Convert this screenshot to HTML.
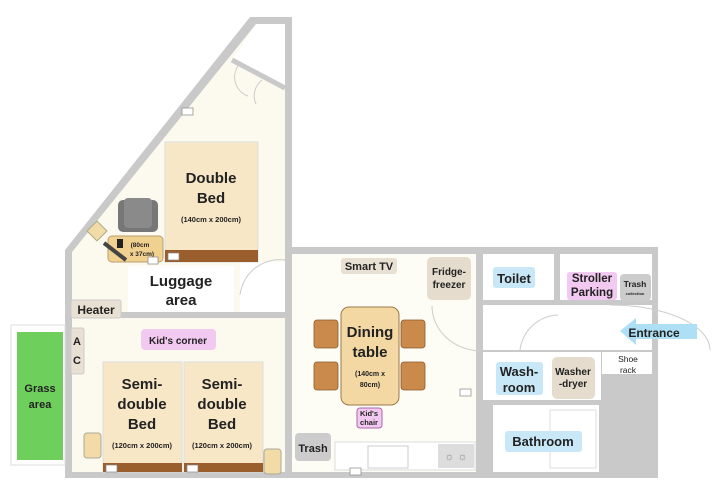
<!DOCTYPE html>
<html><head><meta charset="utf-8"><style>
html,body{margin:0;padding:0;background:#fff;}
svg text{font-family:"Liberation Sans",sans-serif;font-weight:bold;fill:#222;}
</style></head><body>
<svg width="720" height="497" viewBox="0 0 720 497" xmlns="http://www.w3.org/2000/svg">
<!-- wall mass -->
<polygon points="250,17 292,17 292,247 658,247 658,478 65,478 65,250" fill="#c9c9c9"/>
<!-- bedroom triangle interior -->
<polygon points="256,24 285,24 285,262 72,262 72,252" fill="#fcfaee"/>
<!-- closet top -->
<polygon points="256,24 285,24 285,88 232,60" fill="#fff"/>
<line x1="232" y1="60" x2="285" y2="88" stroke="#c9c9c9" stroke-width="5"/>
<path d="M238,66 a20,20 0 0 0 10,30 M262,80 a20,20 0 0 0 -6,24" stroke="#ccc" fill="none"/>
<!-- luggage -->
<rect x="72" y="262" width="213" height="50" fill="#fcfaee"/>
<rect x="128" y="266" width="106" height="46" fill="#fff"/>
<rect x="240" y="262" width="45" height="50" fill="#fff"/>
<path d="M240,295 a40,40 0 0 1 45,-35" stroke="#ccc" fill="none"/>
<!-- kids room -->
<rect x="72" y="318" width="213" height="154" fill="#fcfaee"/>
<!-- grass -->
<rect x="11" y="325" width="54" height="140" fill="#fff" stroke="#ddd"/>
<rect x="17" y="332" width="46" height="128" fill="#6fcf5d"/>
<text x="40" y="392" font-size="11" text-anchor="middle">Grass</text>
<text x="40" y="408" font-size="11" text-anchor="middle">area</text>
<!-- living -->
<rect x="292" y="254" width="184" height="218" fill="#fdfcf5"/>
<rect x="335" y="442" width="140" height="28" fill="#fff" stroke="#ddd"/>
<rect x="368" y="446" width="40" height="22" fill="#fff" stroke="#ccc"/>
<rect x="438" y="444" width="36" height="24" fill="#ddd"/>
<text x="456" y="460" font-size="11" text-anchor="middle" fill="#888" style="fill:#888">☼ ☼</text>
<!-- right rooms -->
<rect x="483" y="254" width="71" height="46" fill="#fff"/>
<rect x="560" y="254" width="92" height="46" fill="#fff"/>
<rect x="483" y="305" width="169" height="45" fill="#fff"/>
<rect x="483" y="352" width="118" height="48" fill="#fff"/>
<rect x="602" y="352" width="50" height="22" fill="#fff"/>
<rect x="493" y="405" width="106" height="67" fill="#fff"/>
<rect x="550" y="410" width="46" height="58" fill="#fff" stroke="#ddd"/>
<path d="M432,306 a50,45 0 0 0 48,45 M520,350 a40,40 0 0 1 38,-35 M610,305 a100,45 0 0 1 100,45" stroke="#ccc" fill="none"/>
<!-- double bed -->
<rect x="165" y="142" width="93" height="120" fill="#f8e7c6" stroke="#ddd"/>
<rect x="165" y="250" width="93" height="12" fill="#9a5d2c"/>
<text x="211" y="183" font-size="15" text-anchor="middle">Double</text>
<text x="211" y="203" font-size="15" text-anchor="middle">Bed</text>
<text x="211" y="222" font-size="7.5" text-anchor="middle">(140cm x 200cm)</text>
<!-- chair & desk -->
<rect x="118" y="200" width="40" height="32" rx="5" fill="#777"/>
<rect x="124" y="198" width="28" height="30" rx="4" fill="#8a8a8a"/>
<rect x="90" y="224" width="14" height="14" fill="#f3dba8" stroke="#aa8" transform="rotate(45 97 231)"/>
<rect x="108" y="236" width="55" height="26" rx="4" fill="#f0d190" stroke="#b9a070"/>
<rect x="117" y="239" width="6" height="9" fill="#222"/>
<line x1="104" y1="243" x2="126" y2="260" stroke="#444" stroke-width="4"/>
<text x="140" y="247" font-size="6.5" text-anchor="middle">(80cm</text>
<text x="142" y="256" font-size="6.5" text-anchor="middle">x 37cm)</text>
<!-- luggage text -->
<text x="181" y="286" font-size="15" text-anchor="middle">Luggage</text>
<text x="181" y="305" font-size="15" text-anchor="middle">area</text>
<!-- heater, AC -->
<rect x="71" y="300" width="50" height="18" rx="2" fill="#e8e0d2" stroke="#ccc"/>
<text x="96" y="314" font-size="12" text-anchor="middle">Heater</text>
<rect x="71" y="328" width="13" height="46" rx="2" fill="#e8e0d2" stroke="#ccc"/>
<text x="77" y="345" font-size="11" text-anchor="middle">A</text>
<text x="77" y="364" font-size="11" text-anchor="middle">C</text>
<rect x="141" y="329" width="75" height="21" rx="4" fill="#f2c9f0"/>
<text x="178" y="344" font-size="10" text-anchor="middle">Kid's corner</text>
<!-- semi beds -->
<rect x="103" y="362" width="79" height="110" fill="#f8e7c6" stroke="#ddd"/>
<rect x="184" y="362" width="79" height="110" fill="#f8e7c6" stroke="#ddd"/>
<rect x="103" y="463" width="79" height="9" fill="#9a5d2c"/>
<rect x="184" y="463" width="79" height="9" fill="#9a5d2c"/>
<text x="142" y="389" font-size="15" text-anchor="middle">Semi-</text>
<text x="142" y="409" font-size="15" text-anchor="middle">double</text>
<text x="142" y="429" font-size="15" text-anchor="middle">Bed</text>
<text x="142" y="448" font-size="7.5" text-anchor="middle">(120cm x 200cm)</text>
<text x="222" y="389" font-size="15" text-anchor="middle">Semi-</text>
<text x="222" y="409" font-size="15" text-anchor="middle">double</text>
<text x="222" y="429" font-size="15" text-anchor="middle">Bed</text>
<text x="222" y="448" font-size="7.5" text-anchor="middle">(120cm x 200cm)</text>
<rect x="84" y="433" width="17" height="25" rx="3" fill="#f3dba8" stroke="#aa9"/>
<rect x="264" y="449" width="17" height="25" rx="3" fill="#f3dba8" stroke="#aa9"/>
<!-- living items -->
<rect x="341" y="258" width="56" height="16" rx="3" fill="#e8e0d2"/>
<text x="369" y="270" font-size="11" text-anchor="middle">Smart TV</text>
<rect x="427" y="257" width="44" height="43" rx="5" fill="#e5dccd"/>
<text x="449" y="275" font-size="10" text-anchor="middle">Fridge-</text>
<text x="449" y="288" font-size="10" text-anchor="middle">freezer</text>
<g fill="#c98a4c" stroke="#8b5a2b" stroke-width="0.8">
<rect x="314" y="320" width="24" height="28" rx="3"/><rect x="314" y="362" width="24" height="28" rx="3"/>
<rect x="401" y="320" width="24" height="28" rx="3"/><rect x="401" y="362" width="24" height="28" rx="3"/>
</g>
<rect x="341" y="307" width="58" height="98" rx="8" fill="#f3d8a4" stroke="#9b7a4c"/>
<text x="370" y="337" font-size="15" text-anchor="middle">Dining</text>
<text x="370" y="357" font-size="15" text-anchor="middle">table</text>
<text x="370" y="376" font-size="7" text-anchor="middle">(140cm x</text>
<text x="370" y="387" font-size="7" text-anchor="middle">80cm)</text>
<rect x="357" y="408" width="25" height="20" rx="3" fill="#f2c9f0" stroke="#a6a"/>
<text x="369" y="416" font-size="7.5" text-anchor="middle">Kid's</text>
<text x="369" y="425" font-size="7.5" text-anchor="middle">chair</text>
<rect x="295" y="433" width="36" height="28" rx="4" fill="#ccc"/>
<text x="313" y="452" font-size="11" text-anchor="middle">Trash</text>
<!-- right labels -->
<rect x="493" y="267" width="42" height="21" rx="3" fill="#c9e8f7"/>
<text x="514" y="283" font-size="13" text-anchor="middle">Toilet</text>
<rect x="567" y="272" width="50" height="28" rx="3" fill="#f2c9f0"/>
<text x="592" y="282" font-size="11.5" text-anchor="middle">Stroller</text>
<text x="592" y="296" font-size="11.5" text-anchor="middle">Parking</text>
<rect x="620" y="274" width="31" height="27" rx="4" fill="#ccc"/>
<text x="635" y="287" font-size="8.5" text-anchor="middle">Trash</text>
<text x="635" y="295" font-size="4" text-anchor="middle">collection</text>
<polygon points="620,331 636,318 636,324 697,324 697,339 636,339 636,345" fill="#aee0f5"/>
<text x="654" y="337" font-size="12" text-anchor="middle">Entrance</text>
<text x="628" y="362" font-size="8.5" text-anchor="middle" style="font-weight:normal">Shoe</text>
<text x="628" y="373" font-size="8.5" text-anchor="middle" style="font-weight:normal">rack</text>
<rect x="496" y="362" width="47" height="33" rx="3" fill="#c9e8f7"/>
<text x="519" y="376" font-size="13" text-anchor="middle">Wash-</text>
<text x="519" y="392" font-size="13" text-anchor="middle">room</text>
<rect x="552" y="357" width="43" height="42" rx="5" fill="#e5dccd"/>
<text x="573" y="375" font-size="10" text-anchor="middle">Washer</text>
<text x="573" y="387" font-size="10" text-anchor="middle">-dryer</text>
<rect x="505" y="431" width="77" height="21" rx="3" fill="#c9e8f7"/>
<text x="543" y="446" font-size="13" text-anchor="middle">Bathroom</text>
<!-- outlets -->
<g fill="#fff" stroke="#888" stroke-width="0.7">
<rect x="182" y="108" width="11" height="7"/><rect x="168" y="253" width="11" height="7"/>
<rect x="148" y="257" width="10" height="7"/><rect x="106" y="465" width="11" height="7"/>
<rect x="187" y="465" width="11" height="7"/><rect x="460" y="389" width="11" height="7"/>
<rect x="350" y="468" width="11" height="7"/>
</g>
</svg>
</body></html>
